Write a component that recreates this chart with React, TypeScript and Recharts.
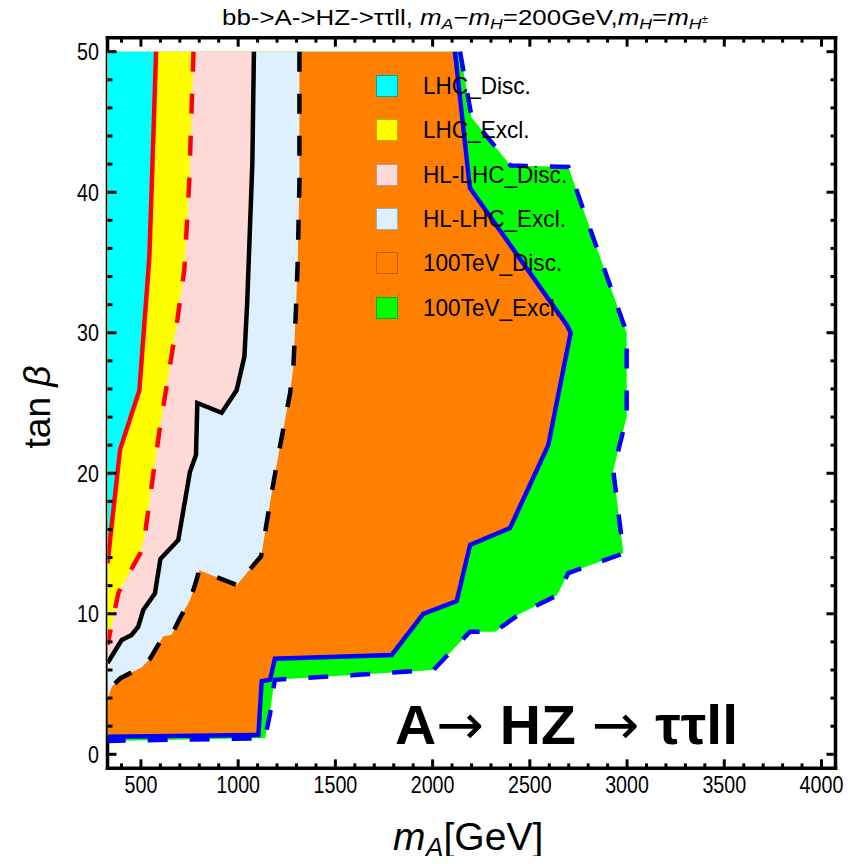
import React from 'react';
import { ScatterChart, Scatter, XAxis, YAxis, Legend } from 'recharts';

// plot range (Mathematica pads 400..4000 / 0..50 by 2%)
const X_MIN = 328;
const X_MAX = 4072;
const Y_MIN = -1;
const Y_MAX = 51;
const Y_TOP = 50;

const X_MAJOR = [500, 1000, 1500, 2000, 2500, 3000, 3500, 4000];
const Y_MAJOR = [0, 10, 20, 30, 40, 50];
const X_TICKS = Array.from({ length: 37 }, (_, i) => 400 + i * 100);
const Y_TICKS = Array.from({ length: 26 }, (_, i) => i * 2);

// region boundaries [m_A, tan beta], top -> left edge
const LHC_DISC: [number, number][] = [
  [578, 50], [556, 40.6], [543, 35.3], [492, 25.9], [393, 21.7], [328, 13.6],
];
const LHC_EXCL: [number, number][] = [
  [770, 50], [748, 40.6], [723, 34.5], [687, 30.9], [598, 23.3], [564, 20],
  [521, 15.7], [496, 14.3], [435, 12.8], [384, 11.5], [328, 7.8],
];
const HL_DISC: [number, number][] = [
  [1081, 50], [1073, 42.1], [1046, 32], [1032, 28.3], [992, 25.9], [915, 24.3],
  [790, 25.0], [783, 21.3], [752, 20.1], [692, 15.25], [600, 13.9], [572, 11.46],
  [512, 10.27], [486, 9.08], [452, 8.49], [401, 8.13], [328, 6.5],
];
const HL_EXCL: [number, number][] = [
  [1315, 50], [1315, 40.6], [1306, 35], [1298, 31.9], [1284, 27.6], [1267, 25.7],
  [1215, 21.9], [1178, 19.05], [1118, 14.1], [992, 12.05], [800, 13.1], [778, 12.05],
  [753, 11], [701, 9.7], [658, 8.5], [615, 8.4], [547, 6.8], [504, 6.2],
  [393, 5.4], [350, 4.8], [328, 3.9],
];
const DISC_100: [number, number][] = [
  [2115, 50], [2192, 40.3], [2690, 30.55], [2710, 30.0], [2595, 22.0], [2398, 16.1],
  [2193, 14.9], [2124, 10.9], [1952, 10.0], [1790, 7.07], [1189, 6.8], [1164, 5.3],
  [1121, 5.2], [1104, 1.37], [328, 1.25],
];
const EXCL_100: [number, number][] = [
  [2141, 50], [2201, 45.3], [2400, 41.9], [2698, 41.8], [2998, 30.0], [2998, 24.0],
  [2929, 20.2], [2981, 14.3], [2698, 12.9], [2638, 11.3], [2449, 10.0], [2321, 8.73],
  [2192, 8.73], [2004, 6.0], [1189, 5.3], [1178, 4.45], [1164, 2.9], [1138, 1.15],
  [328, 0.95],
];

const REGIONS = [
  { name: '100TeV_Excl.', edge: EXCL_100, fill: '#00FF00', border: '#00B000', stroke: '#0000FF', dash: '20 22' },
  { name: '100TeV_Disc.', edge: DISC_100, fill: '#FF8000', border: '#C06000', stroke: '#0000FF', dash: undefined },
  { name: 'HL-LHC_Excl.', edge: HL_EXCL, fill: '#DEEFFD', border: '#9FAAB5', stroke: '#000000', dash: '20 22' },
  { name: 'HL-LHC_Disc.', edge: HL_DISC, fill: '#FFD8D8', border: '#B59A9A', stroke: '#000000', dash: undefined },
  { name: 'LHC_Excl.', edge: LHC_EXCL, fill: '#FFFF00', border: '#B5B500', stroke: '#FF0000', dash: '20 22' },
  { name: 'LHC_Disc.', edge: LHC_DISC, fill: '#00FFFF', border: '#00A5A5', stroke: '#FF0000', dash: undefined },
];
const LEGEND_ORDER = ['LHC_Disc.', 'LHC_Excl.', 'HL-LHC_Disc.', 'HL-LHC_Excl.', '100TeV_Disc.', '100TeV_Excl.'];

const FONT = '"Liberation Sans", Arial, Helvetica, sans-serif';
const FRAME = { stroke: '#000', strokeWidth: 3.5, strokeLinecap: 'square' as const };

const toPts = (edge: [number, number][]) => edge.map(([x, y]) => ({ x, y }));
const toFill = (edge: [number, number][]) => [...toPts(edge), { x: X_MIN, y: Y_TOP }];
const NoDot = () => <g />;

const tickLen = (major: boolean) => (major ? 9 : 5);

// tick marks are drawn as small black rects pointing into the frame
const BottomTick = (p: any) => {
  const { x, y, payload } = p;
  const major = X_MAJOR.includes(payload.value);
  const len = tickLen(major);
  return (
    <g>
      <rect x={x - 1.5} y={y - len} width={3} height={len} fill="#000" />
      {major && (
        <text transform={`translate(${x},${y + 24.6}) scale(0.82,1)`} textAnchor="middle" fontSize={24} fontFamily={FONT} fill="#000" stroke="none">
          {payload.value}
        </text>
      )}
    </g>
  );
};
const TopTick = (p: any) => {
  const { x, y, payload } = p;
  const len = tickLen(X_MAJOR.includes(payload.value));
  return <rect x={x - 1.5} y={y} width={3} height={len} fill="#000" />;
};
const LeftTick = (p: any) => {
  const { x, y, payload } = p;
  const major = Y_MAJOR.includes(payload.value);
  const len = tickLen(major);
  return (
    <g>
      <rect x={x} y={y - 1.5} width={len} height={3} fill="#000" />
      {major && (
        <text transform={`translate(${x - 8.5},${y + 8.5}) scale(0.82,1)`} textAnchor="end" fontSize={24} fontFamily={FONT} fill="#000" stroke="none">
          {payload.value}
        </text>
      )}
    </g>
  );
};
const RightTick = (p: any) => {
  const { x, y, payload } = p;
  const len = tickLen(Y_MAJOR.includes(payload.value));
  return <rect x={x - len} y={y - 1.5} width={len} height={3} fill="#000" />;
};

function LegendBox() {
  return (
    <div style={{ fontFamily: FONT }}>
      {LEGEND_ORDER.map((name) => {
        const r = REGIONS.find((g) => g.name === name)!;
        return (
          <div key={name} style={{ height: 44.3, display: 'flex', alignItems: 'center' }}>
            <span
              style={{
                width: 20,
                height: 20,
                background: r.fill,
                border: `1px solid ${r.border}`,
                marginRight: 25,
                flex: 'none',
              }}
            />
            <span
              style={{
                fontSize: 24,
                color: '#000',
                display: 'inline-block',
                transform: 'scaleX(0.94)',
                transformOrigin: 'left center',
                whiteSpace: 'nowrap',
              }}
            >
              {name}
            </span>
          </div>
        );
      })}
    </div>
  );
}

export default function App() {
  return (
    <div style={{ position: 'relative', width: 840, height: 848 }}>
      <ScatterChart width={840} height={848} margin={{ top: 28.65, right: 11.5, bottom: 37.65, left: 39.5 }}>
        {REGIONS.map((r) => (
          <Scatter
            key={`fill-${r.name}`}
            xAxisId="b"
            yAxisId="l"
            data={toFill(r.edge)}
            line={{ fill: r.fill, stroke: 'none' }}
            shape={NoDot}
            legendType="none"
            isAnimationActive={false}
          />
        ))}
        {REGIONS.map((r) => (
          <Scatter
            key={`edge-${r.name}`}
            xAxisId="b"
            yAxisId="l"
            data={toPts(r.edge)}
            line={{ fill: 'none', stroke: r.stroke, strokeWidth: 4.5, strokeDasharray: r.dash, strokeLinejoin: 'miter' }}
            shape={NoDot}
            legendType="none"
            isAnimationActive={false}
          />
        ))}
        <XAxis
          xAxisId="b"
          type="number"
          dataKey="x"
          domain={[X_MIN, X_MAX]}
          ticks={X_TICKS}
          interval={0}
          allowDataOverflow
          tickLine={false}
          tickSize={0}
          tickMargin={0}
          height={50}
          axisLine={FRAME}
          tick={BottomTick}
        />
        <XAxis
          xAxisId="t"
          orientation="top"
          type="number"
          dataKey="x"
          domain={[X_MIN, X_MAX]}
          ticks={X_TICKS}
          interval={0}
          allowDataOverflow
          tickLine={false}
          tickSize={0}
          tickMargin={0}
          height={1}
          axisLine={FRAME}
          tick={TopTick}
        />
        <YAxis
          yAxisId="l"
          type="number"
          dataKey="y"
          domain={[Y_MIN, Y_MAX]}
          ticks={Y_TICKS}
          interval={0}
          allowDataOverflow
          tickLine={false}
          tickSize={0}
          tickMargin={0}
          width={60}
          axisLine={FRAME}
          tick={LeftTick}
        />
        <YAxis
          yAxisId="r"
          orientation="right"
          type="number"
          dataKey="y"
          domain={[Y_MIN, Y_MAX]}
          ticks={Y_TICKS}
          interval={0}
          allowDataOverflow
          tickLine={false}
          tickSize={0}
          tickMargin={0}
          width={1}
          axisLine={FRAME}
          tick={RightTick}
        />
        <Legend
          layout="vertical"
          align="center"
          verticalAlign="middle"
          wrapperStyle={{ left: 368, top: 56, width: 'auto', height: 'auto' }}
          content={() => <LegendBox />}
        />
      </ScatterChart>
      <svg
        width={856}
        height={864}
        style={{ position: 'absolute', left: -8, top: -8, pointerEvents: 'none', overflow: 'visible' }}
        fontFamily={FONT}
      >
        <text x={222} y={25} fontSize={22} textLength={486} lengthAdjust="spacingAndGlyphs" fill="#000">
          bb-&gt;A-&gt;HZ-&gt;ττll, <tspan fontStyle="italic">m</tspan>
          <tspan fontStyle="italic" fontSize={15} dy={4}>A</tspan>
          <tspan dy={-4}>−</tspan>
          <tspan fontStyle="italic">m</tspan>
          <tspan fontStyle="italic" fontSize={15} dy={4}>H</tspan>
          <tspan dy={-4}>=200GeV,</tspan>
          <tspan fontStyle="italic">m</tspan>
          <tspan fontStyle="italic" fontSize={15} dy={4}>H</tspan>
          <tspan dy={-4}>=</tspan>
          <tspan fontStyle="italic">m</tspan>
          <tspan fontStyle="italic" fontSize={15} dy={4}>H</tspan>
          <tspan fontSize={10} dy={-6}>±</tspan>
        </text>
        <text transform="translate(50,407) rotate(-90)" textAnchor="middle" fontSize={37} fill="#000">
          tan <tspan fontStyle="italic">β</tspan>
        </text>
        <text x={393} y={850} fontSize={39} fill="#000">
          <tspan fontStyle="italic">m</tspan>
          <tspan fontStyle="italic" fontSize={27} dy={7}>A</tspan>
          <tspan dy={-7}>[GeV]</tspan>
        </text>
        <text x={395} y={743.5} fontSize={56} fontWeight="bold" textLength={343} lengthAdjust="spacingAndGlyphs" fill="#000">
          A<tspan fontWeight="normal" fontFamily="DejaVu Sans">→</tspan> HZ <tspan fontWeight="normal" fontFamily="DejaVu Sans">→</tspan> ττll
        </text>
      </svg>
    </div>
  );
}
